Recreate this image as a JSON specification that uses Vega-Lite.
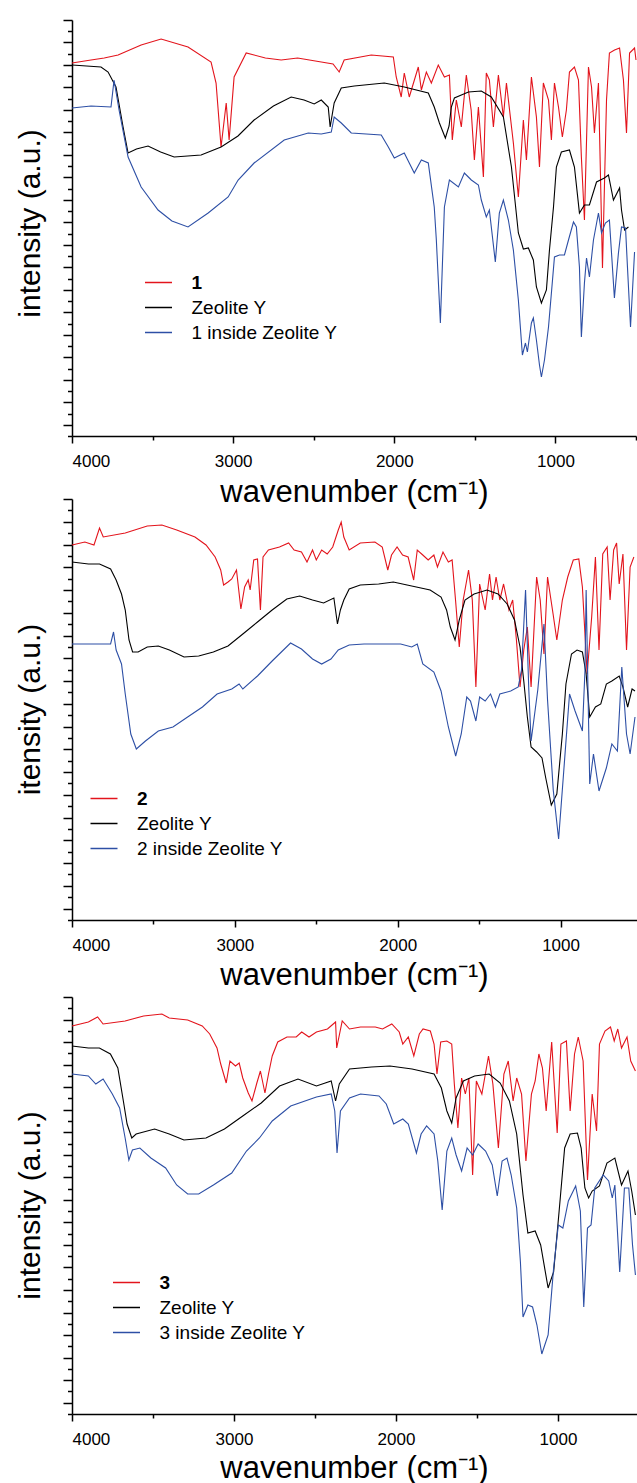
{
"$schema": "https://vega.github.io/schema/vega-lite/v6.json",
"background": "white",
"padding": {"left": 15, "top": 19, "right": 0, "bottom": 0},
"config": {
 "font": "Liberation Sans",
 "view": {"stroke": null},
 "axis": {"domainColor": "black", "domainWidth": 1.5, "tickColor": "black", "tickWidth": 1.5, "grid": false, "labelFont": "Liberation Sans", "labelFontSize": 17, "labelColor": "black", "titleFont": "Liberation Sans", "titleFontWeight": "normal", "titleColor": "black"},
 "legend": {"orient": "none", "symbolType": "M-1.5,0H1.5", "symbolSize": 324, "symbolStrokeWidth": 1.5, "labelFont": "Liberation Sans", "labelFontSize": 19, "labelColor": "black", "labelOffset": 23, "rowPadding": 5, "padding": 0, "symbolOffset": 0, "labelFontWeight": {"expr": "length(datum.label) == 1 ? 'bold' : 'normal'"}}
},
"datasets": {
 "p1": [
{"w":4000,"v":373,"s":"1"},{"w":3882,"v":376,"s":"1"},{"w":3800,"v":378,"s":"1"},{"w":3714,"v":381,"s":"1"},{"w":3571,"v":391,"s":"1"},{"w":3447,"v":397,"s":"1"},{"w":3280,"v":389,"s":"1"},{"w":3137,"v":374,"s":"1"},{"w":3106,"v":353,"s":"1"},{"w":3075,"v":289,"s":"1"},{"w":3043,"v":333,"s":"1"},{"w":3025,"v":296,"s":"1"},{"w":2994,"v":359,"s":"1"},{"w":2919,"v":383,"s":"1"},{"w":2800,"v":378,"s":"1"},{"w":2702,"v":376,"s":"1"},{"w":2600,"v":378,"s":"1"},{"w":2453,"v":374,"s":"1"},{"w":2380,"v":372,"s":"1"},{"w":2342,"v":364,"s":"1"},{"w":2311,"v":376,"s":"1"},{"w":2143,"v":381,"s":"1"},{"w":2006,"v":379,"s":"1"},{"w":1988,"v":359,"s":"1"},{"w":1957,"v":339,"s":"1"},{"w":1938,"v":363,"s":"1"},{"w":1907,"v":339,"s":"1"},{"w":1851,"v":369,"s":"1"},{"w":1832,"v":346,"s":"1"},{"w":1801,"v":364,"s":"1"},{"w":1770,"v":353,"s":"1"},{"w":1727,"v":371,"s":"1"},{"w":1689,"v":359,"s":"1"},{"w":1658,"v":361,"s":"1"},{"w":1640,"v":296,"s":"1"},{"w":1615,"v":336,"s":"1"},{"w":1584,"v":309,"s":"1"},{"w":1553,"v":361,"s":"1"},{"w":1523,"v":326,"s":"1"},{"w":1503,"v":276,"s":"1"},{"w":1478,"v":329,"s":"1"},{"w":1447,"v":259,"s":"1"},{"w":1429,"v":363,"s":"1"},{"w":1410,"v":356,"s":"1"},{"w":1385,"v":309,"s":"1"},{"w":1354,"v":361,"s":"1"},{"w":1323,"v":319,"s":"1"},{"w":1304,"v":353,"s":"1"},{"w":1261,"v":293,"s":"1"},{"w":1230,"v":239,"s":"1"},{"w":1199,"v":316,"s":"1"},{"w":1180,"v":276,"s":"1"},{"w":1149,"v":359,"s":"1"},{"w":1118,"v":319,"s":"1"},{"w":1099,"v":269,"s":"1"},{"w":1075,"v":353,"s":"1"},{"w":1043,"v":336,"s":"1"},{"w":1025,"v":296,"s":"1"},{"w":1006,"v":353,"s":"1"},{"w":981,"v":329,"s":"1"},{"w":957,"v":299,"s":"1"},{"w":932,"v":326,"s":"1"},{"w":913,"v":364,"s":"1"},{"w":882,"v":369,"s":"1"},{"w":857,"v":356,"s":"1"},{"w":839,"v":279,"s":"1"},{"w":820,"v":216,"s":"1"},{"w":795,"v":369,"s":"1"},{"w":776,"v":349,"s":"1"},{"w":758,"v":303,"s":"1"},{"w":733,"v":353,"s":"1"},{"w":708,"v":168,"s":"1"},{"w":683,"v":336,"s":"1"},{"w":665,"v":383,"s":"1"},{"w":633,"v":386,"s":"1"},{"w":602,"v":388,"s":"1"},{"w":578,"v":356,"s":"1"},{"w":559,"v":303,"s":"1"},{"w":540,"v":383,"s":"1"},{"w":509,"v":388,"s":"1"},{"w":500,"v":376,"s":"1"},
{"w":4000,"v":371,"s":"Zeolite Y"},{"w":3820,"v":369,"s":"Zeolite Y"},{"w":3776,"v":364,"s":"Zeolite Y"},{"w":3727,"v":349,"s":"Zeolite Y"},{"w":3683,"v":309,"s":"Zeolite Y"},{"w":3652,"v":283,"s":"Zeolite Y"},{"w":3600,"v":287,"s":"Zeolite Y"},{"w":3528,"v":290,"s":"Zeolite Y"},{"w":3450,"v":284,"s":"Zeolite Y"},{"w":3366,"v":279,"s":"Zeolite Y"},{"w":3199,"v":281,"s":"Zeolite Y"},{"w":3075,"v":289,"s":"Zeolite Y"},{"w":2970,"v":300,"s":"Zeolite Y"},{"w":2870,"v":316,"s":"Zeolite Y"},{"w":2750,"v":330,"s":"Zeolite Y"},{"w":2640,"v":339,"s":"Zeolite Y"},{"w":2560,"v":336,"s":"Zeolite Y"},{"w":2497,"v":332,"s":"Zeolite Y"},{"w":2453,"v":336,"s":"Zeolite Y"},{"w":2410,"v":329,"s":"Zeolite Y"},{"w":2398,"v":309,"s":"Zeolite Y"},{"w":2373,"v":333,"s":"Zeolite Y"},{"w":2329,"v":348,"s":"Zeolite Y"},{"w":2248,"v":350,"s":"Zeolite Y"},{"w":2062,"v":353,"s":"Zeolite Y"},{"w":1938,"v":349,"s":"Zeolite Y"},{"w":1789,"v":343,"s":"Zeolite Y"},{"w":1752,"v":329,"s":"Zeolite Y"},{"w":1720,"v":313,"s":"Zeolite Y"},{"w":1683,"v":298,"s":"Zeolite Y"},{"w":1660,"v":310,"s":"Zeolite Y"},{"w":1646,"v":329,"s":"Zeolite Y"},{"w":1627,"v":338,"s":"Zeolite Y"},{"w":1540,"v":344,"s":"Zeolite Y"},{"w":1460,"v":345,"s":"Zeolite Y"},{"w":1398,"v":339,"s":"Zeolite Y"},{"w":1323,"v":319,"s":"Zeolite Y"},{"w":1273,"v":269,"s":"Zeolite Y"},{"w":1230,"v":203,"s":"Zeolite Y"},{"w":1199,"v":187,"s":"Zeolite Y"},{"w":1168,"v":188,"s":"Zeolite Y"},{"w":1137,"v":176,"s":"Zeolite Y"},{"w":1118,"v":149,"s":"Zeolite Y"},{"w":1087,"v":133,"s":"Zeolite Y"},{"w":1056,"v":146,"s":"Zeolite Y"},{"w":1037,"v":186,"s":"Zeolite Y"},{"w":1012,"v":229,"s":"Zeolite Y"},{"w":994,"v":269,"s":"Zeolite Y"},{"w":963,"v":284,"s":"Zeolite Y"},{"w":913,"v":286,"s":"Zeolite Y"},{"w":882,"v":269,"s":"Zeolite Y"},{"w":851,"v":223,"s":"Zeolite Y"},{"w":820,"v":231,"s":"Zeolite Y"},{"w":789,"v":231,"s":"Zeolite Y"},{"w":745,"v":254,"s":"Zeolite Y"},{"w":696,"v":258,"s":"Zeolite Y"},{"w":671,"v":261,"s":"Zeolite Y"},{"w":640,"v":236,"s":"Zeolite Y"},{"w":602,"v":248,"s":"Zeolite Y"},{"w":590,"v":226,"s":"Zeolite Y"},{"w":571,"v":206,"s":"Zeolite Y"},{"w":547,"v":209,"s":"Zeolite Y"},
{"w":4000,"v":328,"s":"1 inside Zeolite Y"},{"w":3882,"v":330,"s":"1 inside Zeolite Y"},{"w":3758,"v":329,"s":"1 inside Zeolite Y"},{"w":3739,"v":356,"s":"1 inside Zeolite Y"},{"w":3708,"v":326,"s":"1 inside Zeolite Y"},{"w":3652,"v":279,"s":"1 inside Zeolite Y"},{"w":3571,"v":249,"s":"1 inside Zeolite Y"},{"w":3466,"v":226,"s":"1 inside Zeolite Y"},{"w":3380,"v":215,"s":"1 inside Zeolite Y"},{"w":3280,"v":209,"s":"1 inside Zeolite Y"},{"w":3155,"v":223,"s":"1 inside Zeolite Y"},{"w":3031,"v":239,"s":"1 inside Zeolite Y"},{"w":2969,"v":256,"s":"1 inside Zeolite Y"},{"w":2870,"v":273,"s":"1 inside Zeolite Y"},{"w":2683,"v":296,"s":"1 inside Zeolite Y"},{"w":2534,"v":303,"s":"1 inside Zeolite Y"},{"w":2453,"v":302,"s":"1 inside Zeolite Y"},{"w":2391,"v":304,"s":"1 inside Zeolite Y"},{"w":2373,"v":319,"s":"1 inside Zeolite Y"},{"w":2329,"v":313,"s":"1 inside Zeolite Y"},{"w":2267,"v":303,"s":"1 inside Zeolite Y"},{"w":2081,"v":301,"s":"1 inside Zeolite Y"},{"w":2037,"v":289,"s":"1 inside Zeolite Y"},{"w":2000,"v":278,"s":"1 inside Zeolite Y"},{"w":1938,"v":283,"s":"1 inside Zeolite Y"},{"w":1876,"v":263,"s":"1 inside Zeolite Y"},{"w":1832,"v":276,"s":"1 inside Zeolite Y"},{"w":1789,"v":273,"s":"1 inside Zeolite Y"},{"w":1752,"v":229,"s":"1 inside Zeolite Y"},{"w":1739,"v":196,"s":"1 inside Zeolite Y"},{"w":1714,"v":113,"s":"1 inside Zeolite Y"},{"w":1689,"v":229,"s":"1 inside Zeolite Y"},{"w":1658,"v":256,"s":"1 inside Zeolite Y"},{"w":1602,"v":249,"s":"1 inside Zeolite Y"},{"w":1565,"v":263,"s":"1 inside Zeolite Y"},{"w":1522,"v":256,"s":"1 inside Zeolite Y"},{"w":1478,"v":251,"s":"1 inside Zeolite Y"},{"w":1460,"v":236,"s":"1 inside Zeolite Y"},{"w":1429,"v":219,"s":"1 inside Zeolite Y"},{"w":1410,"v":226,"s":"1 inside Zeolite Y"},{"w":1373,"v":174,"s":"1 inside Zeolite Y"},{"w":1348,"v":223,"s":"1 inside Zeolite Y"},{"w":1323,"v":236,"s":"1 inside Zeolite Y"},{"w":1292,"v":216,"s":"1 inside Zeolite Y"},{"w":1261,"v":186,"s":"1 inside Zeolite Y"},{"w":1230,"v":136,"s":"1 inside Zeolite Y"},{"w":1205,"v":81,"s":"1 inside Zeolite Y"},{"w":1186,"v":93,"s":"1 inside Zeolite Y"},{"w":1174,"v":84,"s":"1 inside Zeolite Y"},{"w":1149,"v":113,"s":"1 inside Zeolite Y"},{"w":1137,"v":118,"s":"1 inside Zeolite Y"},{"w":1118,"v":96,"s":"1 inside Zeolite Y"},{"w":1099,"v":71,"s":"1 inside Zeolite Y"},{"w":1087,"v":59,"s":"1 inside Zeolite Y"},{"w":1068,"v":76,"s":"1 inside Zeolite Y"},{"w":1043,"v":109,"s":"1 inside Zeolite Y"},{"w":1025,"v":143,"s":"1 inside Zeolite Y"},{"w":1006,"v":179,"s":"1 inside Zeolite Y"},{"w":975,"v":181,"s":"1 inside Zeolite Y"},{"w":944,"v":181,"s":"1 inside Zeolite Y"},{"w":919,"v":196,"s":"1 inside Zeolite Y"},{"w":888,"v":214,"s":"1 inside Zeolite Y"},{"w":870,"v":209,"s":"1 inside Zeolite Y"},{"w":851,"v":169,"s":"1 inside Zeolite Y"},{"w":839,"v":99,"s":"1 inside Zeolite Y"},{"w":820,"v":153,"s":"1 inside Zeolite Y"},{"w":807,"v":178,"s":"1 inside Zeolite Y"},{"w":789,"v":159,"s":"1 inside Zeolite Y"},{"w":764,"v":196,"s":"1 inside Zeolite Y"},{"w":733,"v":223,"s":"1 inside Zeolite Y"},{"w":714,"v":203,"s":"1 inside Zeolite Y"},{"w":690,"v":213,"s":"1 inside Zeolite Y"},{"w":665,"v":216,"s":"1 inside Zeolite Y"},{"w":634,"v":138,"s":"1 inside Zeolite Y"},{"w":609,"v":183,"s":"1 inside Zeolite Y"},{"w":590,"v":209,"s":"1 inside Zeolite Y"},{"w":565,"v":208,"s":"1 inside Zeolite Y"},{"w":553,"v":169,"s":"1 inside Zeolite Y"},{"w":534,"v":109,"s":"1 inside Zeolite Y"},{"w":509,"v":184,"s":"1 inside Zeolite Y"}
 ],
 "p2": [
{"w":4000,"v":375,"s":"2"},{"w":3921,"v":378,"s":"2"},{"w":3865,"v":375,"s":"2"},{"w":3831,"v":392,"s":"2"},{"w":3808,"v":383,"s":"2"},{"w":3673,"v":387,"s":"2"},{"w":3538,"v":394,"s":"2"},{"w":3448,"v":395,"s":"2"},{"w":3357,"v":390,"s":"2"},{"w":3245,"v":383,"s":"2"},{"w":3177,"v":375,"s":"2"},{"w":3121,"v":363,"s":"2"},{"w":3087,"v":350,"s":"2"},{"w":3069,"v":335,"s":"2"},{"w":3042,"v":338,"s":"2"},{"w":3019,"v":341,"s":"2"},{"w":2990,"v":350,"s":"2"},{"w":2963,"v":311,"s":"2"},{"w":2940,"v":333,"s":"2"},{"w":2918,"v":340,"s":"2"},{"w":2906,"v":330,"s":"2"},{"w":2884,"v":360,"s":"2"},{"w":2861,"v":361,"s":"2"},{"w":2843,"v":310,"s":"2"},{"w":2827,"v":363,"s":"2"},{"w":2794,"v":370,"s":"2"},{"w":2726,"v":373,"s":"2"},{"w":2670,"v":377,"s":"2"},{"w":2636,"v":370,"s":"2"},{"w":2591,"v":368,"s":"2"},{"w":2557,"v":358,"s":"2"},{"w":2523,"v":370,"s":"2"},{"w":2500,"v":360,"s":"2"},{"w":2467,"v":370,"s":"2"},{"w":2433,"v":366,"s":"2"},{"w":2399,"v":373,"s":"2"},{"w":2365,"v":390,"s":"2"},{"w":2347,"v":398,"s":"2"},{"w":2331,"v":383,"s":"2"},{"w":2298,"v":370,"s":"2"},{"w":2230,"v":377,"s":"2"},{"w":2140,"v":378,"s":"2"},{"w":2095,"v":373,"s":"2"},{"w":2061,"v":350,"s":"2"},{"w":2038,"v":365,"s":"2"},{"w":2004,"v":373,"s":"2"},{"w":1970,"v":365,"s":"2"},{"w":1936,"v":363,"s":"2"},{"w":1902,"v":340,"s":"2"},{"w":1880,"v":370,"s":"2"},{"w":1846,"v":365,"s":"2"},{"w":1813,"v":360,"s":"2"},{"w":1778,"v":365,"s":"2"},{"w":1756,"v":353,"s":"2"},{"w":1722,"v":368,"s":"2"},{"w":1689,"v":358,"s":"2"},{"w":1666,"v":360,"s":"2"},{"w":1645,"v":320,"s":"2"},{"w":1622,"v":273,"s":"2"},{"w":1598,"v":320,"s":"2"},{"w":1565,"v":350,"s":"2"},{"w":1542,"v":320,"s":"2"},{"w":1520,"v":233,"s":"2"},{"w":1497,"v":336,"s":"2"},{"w":1463,"v":310,"s":"2"},{"w":1436,"v":346,"s":"2"},{"w":1418,"v":320,"s":"2"},{"w":1396,"v":343,"s":"2"},{"w":1373,"v":320,"s":"2"},{"w":1350,"v":336,"s":"2"},{"w":1317,"v":310,"s":"2"},{"w":1294,"v":320,"s":"2"},{"w":1271,"v":280,"s":"2"},{"w":1249,"v":233,"s":"2"},{"w":1226,"v":270,"s":"2"},{"w":1204,"v":293,"s":"2"},{"w":1181,"v":233,"s":"2"},{"w":1147,"v":343,"s":"2"},{"w":1125,"v":320,"s":"2"},{"w":1102,"v":266,"s":"2"},{"w":1080,"v":343,"s":"2"},{"w":1046,"v":306,"s":"2"},{"w":1023,"v":280,"s":"2"},{"w":989,"v":320,"s":"2"},{"w":956,"v":343,"s":"2"},{"w":922,"v":360,"s":"2"},{"w":888,"v":361,"s":"2"},{"w":866,"v":333,"s":"2"},{"w":837,"v":246,"s":"2"},{"w":809,"v":303,"s":"2"},{"w":786,"v":363,"s":"2"},{"w":764,"v":270,"s":"2"},{"w":741,"v":366,"s":"2"},{"w":714,"v":373,"s":"2"},{"w":696,"v":320,"s":"2"},{"w":674,"v":370,"s":"2"},{"w":656,"v":377,"s":"2"},{"w":640,"v":336,"s":"2"},{"w":617,"v":366,"s":"2"},{"w":595,"v":270,"s":"2"},{"w":573,"v":353,"s":"2"},{"w":550,"v":363,"s":"2"},
{"w":4000,"v":358,"s":"Zeolite Y"},{"w":3899,"v":356,"s":"Zeolite Y"},{"w":3831,"v":356,"s":"Zeolite Y"},{"w":3763,"v":351,"s":"Zeolite Y"},{"w":3729,"v":340,"s":"Zeolite Y"},{"w":3696,"v":326,"s":"Zeolite Y"},{"w":3673,"v":310,"s":"Zeolite Y"},{"w":3650,"v":280,"s":"Zeolite Y"},{"w":3628,"v":268,"s":"Zeolite Y"},{"w":3594,"v":268,"s":"Zeolite Y"},{"w":3538,"v":273,"s":"Zeolite Y"},{"w":3470,"v":274,"s":"Zeolite Y"},{"w":3402,"v":270,"s":"Zeolite Y"},{"w":3312,"v":263,"s":"Zeolite Y"},{"w":3222,"v":264,"s":"Zeolite Y"},{"w":3132,"v":268,"s":"Zeolite Y"},{"w":3042,"v":274,"s":"Zeolite Y"},{"w":2951,"v":286,"s":"Zeolite Y"},{"w":2861,"v":298,"s":"Zeolite Y"},{"w":2771,"v":310,"s":"Zeolite Y"},{"w":2681,"v":321,"s":"Zeolite Y"},{"w":2602,"v":324,"s":"Zeolite Y"},{"w":2523,"v":320,"s":"Zeolite Y"},{"w":2455,"v":317,"s":"Zeolite Y"},{"w":2392,"v":322,"s":"Zeolite Y"},{"w":2370,"v":296,"s":"Zeolite Y"},{"w":2352,"v":310,"s":"Zeolite Y"},{"w":2331,"v":320,"s":"Zeolite Y"},{"w":2298,"v":331,"s":"Zeolite Y"},{"w":2230,"v":335,"s":"Zeolite Y"},{"w":2117,"v":336,"s":"Zeolite Y"},{"w":2027,"v":338,"s":"Zeolite Y"},{"w":1914,"v":334,"s":"Zeolite Y"},{"w":1801,"v":330,"s":"Zeolite Y"},{"w":1734,"v":323,"s":"Zeolite Y"},{"w":1700,"v":310,"s":"Zeolite Y"},{"w":1677,"v":293,"s":"Zeolite Y"},{"w":1648,"v":280,"s":"Zeolite Y"},{"w":1622,"v":300,"s":"Zeolite Y"},{"w":1587,"v":320,"s":"Zeolite Y"},{"w":1531,"v":326,"s":"Zeolite Y"},{"w":1452,"v":330,"s":"Zeolite Y"},{"w":1384,"v":326,"s":"Zeolite Y"},{"w":1328,"v":316,"s":"Zeolite Y"},{"w":1283,"v":300,"s":"Zeolite Y"},{"w":1249,"v":273,"s":"Zeolite Y"},{"w":1226,"v":239,"s":"Zeolite Y"},{"w":1204,"v":203,"s":"Zeolite Y"},{"w":1181,"v":173,"s":"Zeolite Y"},{"w":1147,"v":168,"s":"Zeolite Y"},{"w":1114,"v":162,"s":"Zeolite Y"},{"w":1091,"v":142,"s":"Zeolite Y"},{"w":1057,"v":115,"s":"Zeolite Y"},{"w":1023,"v":126,"s":"Zeolite Y"},{"w":989,"v":186,"s":"Zeolite Y"},{"w":967,"v":236,"s":"Zeolite Y"},{"w":933,"v":266,"s":"Zeolite Y"},{"w":899,"v":270,"s":"Zeolite Y"},{"w":866,"v":268,"s":"Zeolite Y"},{"w":843,"v":246,"s":"Zeolite Y"},{"w":821,"v":203,"s":"Zeolite Y"},{"w":786,"v":213,"s":"Zeolite Y"},{"w":753,"v":216,"s":"Zeolite Y"},{"w":719,"v":236,"s":"Zeolite Y"},{"w":685,"v":239,"s":"Zeolite Y"},{"w":640,"v":244,"s":"Zeolite Y"},{"w":617,"v":233,"s":"Zeolite Y"},{"w":588,"v":213,"s":"Zeolite Y"},{"w":561,"v":231,"s":"Zeolite Y"},{"w":543,"v":229,"s":"Zeolite Y"},
{"w":4000,"v":276,"s":"2 inside Zeolite Y"},{"w":3853,"v":276,"s":"2 inside Zeolite Y"},{"w":3763,"v":276,"s":"2 inside Zeolite Y"},{"w":3745,"v":288,"s":"2 inside Zeolite Y"},{"w":3729,"v":270,"s":"2 inside Zeolite Y"},{"w":3696,"v":256,"s":"2 inside Zeolite Y"},{"w":3673,"v":226,"s":"2 inside Zeolite Y"},{"w":3639,"v":186,"s":"2 inside Zeolite Y"},{"w":3605,"v":171,"s":"2 inside Zeolite Y"},{"w":3549,"v":179,"s":"2 inside Zeolite Y"},{"w":3470,"v":189,"s":"2 inside Zeolite Y"},{"w":3380,"v":193,"s":"2 inside Zeolite Y"},{"w":3290,"v":203,"s":"2 inside Zeolite Y"},{"w":3199,"v":213,"s":"2 inside Zeolite Y"},{"w":3109,"v":226,"s":"2 inside Zeolite Y"},{"w":3019,"v":231,"s":"2 inside Zeolite Y"},{"w":2974,"v":236,"s":"2 inside Zeolite Y"},{"w":2951,"v":231,"s":"2 inside Zeolite Y"},{"w":2861,"v":244,"s":"2 inside Zeolite Y"},{"w":2771,"v":259,"s":"2 inside Zeolite Y"},{"w":2658,"v":277,"s":"2 inside Zeolite Y"},{"w":2591,"v":271,"s":"2 inside Zeolite Y"},{"w":2523,"v":261,"s":"2 inside Zeolite Y"},{"w":2467,"v":256,"s":"2 inside Zeolite Y"},{"w":2410,"v":261,"s":"2 inside Zeolite Y"},{"w":2365,"v":270,"s":"2 inside Zeolite Y"},{"w":2298,"v":275,"s":"2 inside Zeolite Y"},{"w":2207,"v":276,"s":"2 inside Zeolite Y"},{"w":2095,"v":276,"s":"2 inside Zeolite Y"},{"w":1982,"v":276,"s":"2 inside Zeolite Y"},{"w":1914,"v":273,"s":"2 inside Zeolite Y"},{"w":1880,"v":276,"s":"2 inside Zeolite Y"},{"w":1846,"v":256,"s":"2 inside Zeolite Y"},{"w":1778,"v":248,"s":"2 inside Zeolite Y"},{"w":1734,"v":229,"s":"2 inside Zeolite Y"},{"w":1689,"v":193,"s":"2 inside Zeolite Y"},{"w":1644,"v":164,"s":"2 inside Zeolite Y"},{"w":1610,"v":186,"s":"2 inside Zeolite Y"},{"w":1576,"v":223,"s":"2 inside Zeolite Y"},{"w":1553,"v":219,"s":"2 inside Zeolite Y"},{"w":1520,"v":199,"s":"2 inside Zeolite Y"},{"w":1497,"v":223,"s":"2 inside Zeolite Y"},{"w":1463,"v":219,"s":"2 inside Zeolite Y"},{"w":1430,"v":226,"s":"2 inside Zeolite Y"},{"w":1400,"v":213,"s":"2 inside Zeolite Y"},{"w":1373,"v":226,"s":"2 inside Zeolite Y"},{"w":1306,"v":229,"s":"2 inside Zeolite Y"},{"w":1260,"v":233,"s":"2 inside Zeolite Y"},{"w":1240,"v":250,"s":"2 inside Zeolite Y"},{"w":1215,"v":330,"s":"2 inside Zeolite Y"},{"w":1195,"v":230,"s":"2 inside Zeolite Y"},{"w":1181,"v":179,"s":"2 inside Zeolite Y"},{"w":1140,"v":230,"s":"2 inside Zeolite Y"},{"w":1102,"v":296,"s":"2 inside Zeolite Y"},{"w":1080,"v":220,"s":"2 inside Zeolite Y"},{"w":1045,"v":130,"s":"2 inside Zeolite Y"},{"w":1012,"v":81,"s":"2 inside Zeolite Y"},{"w":980,"v":150,"s":"2 inside Zeolite Y"},{"w":945,"v":226,"s":"2 inside Zeolite Y"},{"w":911,"v":209,"s":"2 inside Zeolite Y"},{"w":866,"v":189,"s":"2 inside Zeolite Y"},{"w":850,"v":250,"s":"2 inside Zeolite Y"},{"w":843,"v":330,"s":"2 inside Zeolite Y"},{"w":821,"v":136,"s":"2 inside Zeolite Y"},{"w":798,"v":166,"s":"2 inside Zeolite Y"},{"w":764,"v":129,"s":"2 inside Zeolite Y"},{"w":719,"v":152,"s":"2 inside Zeolite Y"},{"w":685,"v":176,"s":"2 inside Zeolite Y"},{"w":651,"v":169,"s":"2 inside Zeolite Y"},{"w":624,"v":253,"s":"2 inside Zeolite Y"},{"w":595,"v":186,"s":"2 inside Zeolite Y"},{"w":573,"v":166,"s":"2 inside Zeolite Y"},{"w":543,"v":203,"s":"2 inside Zeolite Y"}
 ],
 "p3": [
{"w":4000,"v":388,"s":"3"},{"w":3899,"v":392,"s":"3"},{"w":3842,"v":397,"s":"3"},{"w":3808,"v":390,"s":"3"},{"w":3672,"v":393,"s":"3"},{"w":3558,"v":398,"s":"3"},{"w":3445,"v":400,"s":"3"},{"w":3400,"v":396,"s":"3"},{"w":3286,"v":394,"s":"3"},{"w":3196,"v":388,"s":"3"},{"w":3150,"v":380,"s":"3"},{"w":3105,"v":366,"s":"3"},{"w":3082,"v":350,"s":"3"},{"w":3048,"v":331,"s":"3"},{"w":3025,"v":353,"s":"3"},{"w":2991,"v":348,"s":"3"},{"w":2968,"v":351,"s":"3"},{"w":2946,"v":336,"s":"3"},{"w":2912,"v":321,"s":"3"},{"w":2889,"v":313,"s":"3"},{"w":2859,"v":331,"s":"3"},{"w":2837,"v":343,"s":"3"},{"w":2809,"v":321,"s":"3"},{"w":2787,"v":340,"s":"3"},{"w":2764,"v":358,"s":"3"},{"w":2730,"v":372,"s":"3"},{"w":2673,"v":377,"s":"3"},{"w":2616,"v":377,"s":"3"},{"w":2582,"v":382,"s":"3"},{"w":2537,"v":377,"s":"3"},{"w":2491,"v":382,"s":"3"},{"w":2423,"v":385,"s":"3"},{"w":2373,"v":392,"s":"3"},{"w":2366,"v":366,"s":"3"},{"w":2332,"v":393,"s":"3"},{"w":2287,"v":385,"s":"3"},{"w":2219,"v":387,"s":"3"},{"w":2128,"v":387,"s":"3"},{"w":2083,"v":385,"s":"3"},{"w":2026,"v":390,"s":"3"},{"w":1980,"v":382,"s":"3"},{"w":1958,"v":370,"s":"3"},{"w":1924,"v":377,"s":"3"},{"w":1890,"v":358,"s":"3"},{"w":1856,"v":380,"s":"3"},{"w":1833,"v":385,"s":"3"},{"w":1788,"v":383,"s":"3"},{"w":1765,"v":370,"s":"3"},{"w":1747,"v":340,"s":"3"},{"w":1724,"v":372,"s":"3"},{"w":1686,"v":373,"s":"3"},{"w":1656,"v":370,"s":"3"},{"w":1640,"v":330,"s":"3"},{"w":1618,"v":286,"s":"3"},{"w":1595,"v":336,"s":"3"},{"w":1572,"v":320,"s":"3"},{"w":1550,"v":336,"s":"3"},{"w":1527,"v":239,"s":"3"},{"w":1504,"v":333,"s":"3"},{"w":1470,"v":320,"s":"3"},{"w":1429,"v":358,"s":"3"},{"w":1402,"v":330,"s":"3"},{"w":1368,"v":266,"s":"3"},{"w":1334,"v":340,"s":"3"},{"w":1307,"v":353,"s":"3"},{"w":1277,"v":313,"s":"3"},{"w":1255,"v":336,"s":"3"},{"w":1225,"v":320,"s":"3"},{"w":1198,"v":253,"s":"3"},{"w":1164,"v":320,"s":"3"},{"w":1141,"v":333,"s":"3"},{"w":1118,"v":360,"s":"3"},{"w":1096,"v":346,"s":"3"},{"w":1073,"v":303,"s":"3"},{"w":1039,"v":372,"s":"3"},{"w":1005,"v":281,"s":"3"},{"w":982,"v":370,"s":"3"},{"w":948,"v":373,"s":"3"},{"w":925,"v":303,"s":"3"},{"w":898,"v":360,"s":"3"},{"w":875,"v":377,"s":"3"},{"w":845,"v":353,"s":"3"},{"w":818,"v":234,"s":"3"},{"w":789,"v":320,"s":"3"},{"w":762,"v":283,"s":"3"},{"w":744,"v":370,"s":"3"},{"w":710,"v":383,"s":"3"},{"w":676,"v":387,"s":"3"},{"w":653,"v":373,"s":"3"},{"w":631,"v":385,"s":"3"},{"w":608,"v":366,"s":"3"},{"w":574,"v":377,"s":"3"},{"w":551,"v":353,"s":"3"},{"w":522,"v":343,"s":"3"},
{"w":4000,"v":368,"s":"Zeolite Y"},{"w":3899,"v":366,"s":"Zeolite Y"},{"w":3831,"v":366,"s":"Zeolite Y"},{"w":3763,"v":360,"s":"Zeolite Y"},{"w":3717,"v":346,"s":"Zeolite Y"},{"w":3683,"v":313,"s":"Zeolite Y"},{"w":3660,"v":290,"s":"Zeolite Y"},{"w":3631,"v":276,"s":"Zeolite Y"},{"w":3604,"v":280,"s":"Zeolite Y"},{"w":3490,"v":285,"s":"Zeolite Y"},{"w":3400,"v":280,"s":"Zeolite Y"},{"w":3309,"v":274,"s":"Zeolite Y"},{"w":3173,"v":276,"s":"Zeolite Y"},{"w":3059,"v":285,"s":"Zeolite Y"},{"w":2946,"v":298,"s":"Zeolite Y"},{"w":2832,"v":311,"s":"Zeolite Y"},{"w":2719,"v":328,"s":"Zeolite Y"},{"w":2605,"v":335,"s":"Zeolite Y"},{"w":2491,"v":328,"s":"Zeolite Y"},{"w":2400,"v":333,"s":"Zeolite Y"},{"w":2373,"v":313,"s":"Zeolite Y"},{"w":2350,"v":330,"s":"Zeolite Y"},{"w":2287,"v":345,"s":"Zeolite Y"},{"w":2151,"v":347,"s":"Zeolite Y"},{"w":2037,"v":348,"s":"Zeolite Y"},{"w":1901,"v":345,"s":"Zeolite Y"},{"w":1765,"v":340,"s":"Zeolite Y"},{"w":1720,"v":326,"s":"Zeolite Y"},{"w":1686,"v":303,"s":"Zeolite Y"},{"w":1656,"v":291,"s":"Zeolite Y"},{"w":1629,"v":316,"s":"Zeolite Y"},{"w":1584,"v":333,"s":"Zeolite Y"},{"w":1515,"v":338,"s":"Zeolite Y"},{"w":1425,"v":340,"s":"Zeolite Y"},{"w":1357,"v":331,"s":"Zeolite Y"},{"w":1300,"v":313,"s":"Zeolite Y"},{"w":1255,"v":280,"s":"Zeolite Y"},{"w":1216,"v":219,"s":"Zeolite Y"},{"w":1186,"v":181,"s":"Zeolite Y"},{"w":1141,"v":183,"s":"Zeolite Y"},{"w":1107,"v":169,"s":"Zeolite Y"},{"w":1061,"v":126,"s":"Zeolite Y"},{"w":1027,"v":142,"s":"Zeolite Y"},{"w":993,"v":203,"s":"Zeolite Y"},{"w":959,"v":266,"s":"Zeolite Y"},{"w":925,"v":280,"s":"Zeolite Y"},{"w":880,"v":281,"s":"Zeolite Y"},{"w":857,"v":266,"s":"Zeolite Y"},{"w":834,"v":226,"s":"Zeolite Y"},{"w":811,"v":216,"s":"Zeolite Y"},{"w":789,"v":223,"s":"Zeolite Y"},{"w":744,"v":228,"s":"Zeolite Y"},{"w":698,"v":251,"s":"Zeolite Y"},{"w":649,"v":256,"s":"Zeolite Y"},{"w":608,"v":229,"s":"Zeolite Y"},{"w":568,"v":243,"s":"Zeolite Y"},{"w":545,"v":223,"s":"Zeolite Y"},{"w":522,"v":199,"s":"Zeolite Y"},
{"w":4000,"v":340,"s":"3 inside Zeolite Y"},{"w":3899,"v":338,"s":"3 inside Zeolite Y"},{"w":3853,"v":330,"s":"3 inside Zeolite Y"},{"w":3808,"v":335,"s":"3 inside Zeolite Y"},{"w":3751,"v":320,"s":"3 inside Zeolite Y"},{"w":3706,"v":306,"s":"3 inside Zeolite Y"},{"w":3672,"v":276,"s":"3 inside Zeolite Y"},{"w":3649,"v":254,"s":"3 inside Zeolite Y"},{"w":3627,"v":264,"s":"3 inside Zeolite Y"},{"w":3581,"v":266,"s":"3 inside Zeolite Y"},{"w":3513,"v":256,"s":"3 inside Zeolite Y"},{"w":3422,"v":246,"s":"3 inside Zeolite Y"},{"w":3354,"v":229,"s":"3 inside Zeolite Y"},{"w":3286,"v":220,"s":"3 inside Zeolite Y"},{"w":3218,"v":220,"s":"3 inside Zeolite Y"},{"w":3127,"v":229,"s":"3 inside Zeolite Y"},{"w":3014,"v":241,"s":"3 inside Zeolite Y"},{"w":2923,"v":263,"s":"3 inside Zeolite Y"},{"w":2843,"v":276,"s":"3 inside Zeolite Y"},{"w":2764,"v":293,"s":"3 inside Zeolite Y"},{"w":2650,"v":308,"s":"3 inside Zeolite Y"},{"w":2491,"v":317,"s":"3 inside Zeolite Y"},{"w":2400,"v":320,"s":"3 inside Zeolite Y"},{"w":2378,"v":303,"s":"3 inside Zeolite Y"},{"w":2364,"v":261,"s":"3 inside Zeolite Y"},{"w":2343,"v":303,"s":"3 inside Zeolite Y"},{"w":2287,"v":316,"s":"3 inside Zeolite Y"},{"w":2219,"v":320,"s":"3 inside Zeolite Y"},{"w":2105,"v":318,"s":"3 inside Zeolite Y"},{"w":2060,"v":310,"s":"3 inside Zeolite Y"},{"w":2014,"v":290,"s":"3 inside Zeolite Y"},{"w":1958,"v":295,"s":"3 inside Zeolite Y"},{"w":1924,"v":290,"s":"3 inside Zeolite Y"},{"w":1874,"v":261,"s":"3 inside Zeolite Y"},{"w":1845,"v":280,"s":"3 inside Zeolite Y"},{"w":1811,"v":288,"s":"3 inside Zeolite Y"},{"w":1765,"v":280,"s":"3 inside Zeolite Y"},{"w":1742,"v":253,"s":"3 inside Zeolite Y"},{"w":1715,"v":204,"s":"3 inside Zeolite Y"},{"w":1686,"v":263,"s":"3 inside Zeolite Y"},{"w":1656,"v":276,"s":"3 inside Zeolite Y"},{"w":1629,"v":259,"s":"3 inside Zeolite Y"},{"w":1595,"v":243,"s":"3 inside Zeolite Y"},{"w":1561,"v":266,"s":"3 inside Zeolite Y"},{"w":1527,"v":259,"s":"3 inside Zeolite Y"},{"w":1493,"v":270,"s":"3 inside Zeolite Y"},{"w":1447,"v":263,"s":"3 inside Zeolite Y"},{"w":1406,"v":249,"s":"3 inside Zeolite Y"},{"w":1375,"v":218,"s":"3 inside Zeolite Y"},{"w":1345,"v":253,"s":"3 inside Zeolite Y"},{"w":1315,"v":256,"s":"3 inside Zeolite Y"},{"w":1289,"v":239,"s":"3 inside Zeolite Y"},{"w":1255,"v":206,"s":"3 inside Zeolite Y"},{"w":1232,"v":152,"s":"3 inside Zeolite Y"},{"w":1216,"v":97,"s":"3 inside Zeolite Y"},{"w":1186,"v":109,"s":"3 inside Zeolite Y"},{"w":1157,"v":107,"s":"3 inside Zeolite Y"},{"w":1130,"v":89,"s":"3 inside Zeolite Y"},{"w":1100,"v":60,"s":"3 inside Zeolite Y"},{"w":1061,"v":79,"s":"3 inside Zeolite Y"},{"w":1027,"v":146,"s":"3 inside Zeolite Y"},{"w":998,"v":189,"s":"3 inside Zeolite Y"},{"w":970,"v":186,"s":"3 inside Zeolite Y"},{"w":936,"v":213,"s":"3 inside Zeolite Y"},{"w":891,"v":228,"s":"3 inside Zeolite Y"},{"w":862,"v":203,"s":"3 inside Zeolite Y"},{"w":841,"v":107,"s":"3 inside Zeolite Y"},{"w":818,"v":186,"s":"3 inside Zeolite Y"},{"w":796,"v":189,"s":"3 inside Zeolite Y"},{"w":773,"v":226,"s":"3 inside Zeolite Y"},{"w":721,"v":239,"s":"3 inside Zeolite Y"},{"w":687,"v":233,"s":"3 inside Zeolite Y"},{"w":665,"v":216,"s":"3 inside Zeolite Y"},{"w":649,"v":229,"s":"3 inside Zeolite Y"},{"w":619,"v":142,"s":"3 inside Zeolite Y"},{"w":590,"v":226,"s":"3 inside Zeolite Y"},{"w":563,"v":226,"s":"3 inside Zeolite Y"},{"w":540,"v":169,"s":"3 inside Zeolite Y"},{"w":522,"v":139,"s":"3 inside Zeolite Y"}
 ]
},
"resolve": {"scale": {"color": "independent"}},
"bounds": "flush",
"spacing": 63,
"vconcat": [
 {
  "width": 564, "height": 416,
  "data": {"name": "p1"},
  "mark": {"type": "line", "strokeWidth": 1.1},
  "encoding": {
   "x": {"field": "w", "type": "quantitative", "scale": {"domain": [4000, 500], "nice": false, "zero": false},
    "axis": {"values": [4000,3500,3000,2500,2000,1500,1000,500], "format": "d", "labelExpr": "datum.value % 1000 == 0 ? datum.label : ''", "tickSize": {"condition": {"test": "datum.value % 1000 == 0", "value": 7}, "value": 4}, "labelPadding": 10, "title": "wavenumber (cm⁻¹)", "titleFontSize": 31, "titleBaseline": "alphabetic", "titleX": 282, "titleY": 65}},
   "y": {"field": "v", "type": "quantitative", "scale": {"domain": [0, 416], "nice": false, "zero": false},
    "axis": {"labels": false, "values": [0,11.24,22.49,33.73,44.97,56.22,67.46,78.70,89.95,101.19,112.43,123.68,134.92,146.16,157.41,168.65,179.89,191.14,202.38,213.62,224.86,236.11,247.35,258.59,269.84,281.08,292.32,303.57,314.81,326.05,337.30,348.54,359.78,371.03,382.27,393.51,404.76,416], "tickSize": {"condition": {"test": "round(datum.value/11.2432) % 2 == 1", "value": 9}, "value": 4.5}, "title": "intensity (a.u.)", "titleFontSize": 30, "titleAngle": -90, "titleBaseline": "alphabetic", "titleAlign": "center", "titleX": -33, "titleY": 203}},
   "color": {"field": "s", "type": "nominal", "scale": {"domain": ["1", "Zeolite Y", "1 inside Zeolite Y"], "range": ["#e3141c", "#000000", "#2d4fa5"]},
    "legend": {"title": null, "legendX": 76.5, "legendY": 252.5}}
  }
 },
 {
  "resolve": {"scale": {"color": "independent"}},
  "bounds": "flush",
  "spacing": 77,
  "vconcat": [
   {
    "width": 570, "height": 421,
    "data": {"name": "p2"},
    "mark": {"type": "line", "strokeWidth": 1.1},
    "encoding": {
     "x": {"field": "w", "type": "quantitative", "scale": {"domain": [4000, 500], "nice": false, "zero": false},
      "axis": {"values": [4000,3500,3000,2500,2000,1500,1000,500], "format": "d", "labelExpr": "datum.value % 1000 == 0 ? datum.label : ''", "tickSize": {"condition": {"test": "datum.value % 1000 == 0", "value": 7}, "value": 4}, "labelPadding": 10, "title": "wavenumber (cm⁻¹)", "titleFontSize": 31, "titleBaseline": "alphabetic", "titleX": 282, "titleY": 64}},
     "y": {"field": "v", "type": "quantitative", "scale": {"domain": [0, 421], "nice": false, "zero": false},
      "axis": {"labels": false, "values": [0,11.38,22.76,34.14,45.51,56.89,68.27,79.65,91.03,102.41,113.78,125.16,136.54,147.92,159.30,170.68,182.05,193.43,204.81,216.19,227.57,238.95,250.32,261.70,273.08,284.46,295.84,307.22,318.59,329.97,341.35,352.73,364.11,375.49,386.86,398.24,409.62,421], "tickSize": {"condition": {"test": "round(datum.value/11.3784) % 2 == 1", "value": 9}, "value": 4.5}, "title": "itensity (a.u.)", "titleFontSize": 30, "titleAngle": -90, "titleBaseline": "alphabetic", "titleAlign": "center", "titleX": -33, "titleY": 210}},
     "color": {"field": "s", "type": "nominal", "scale": {"domain": ["2", "Zeolite Y", "2 inside Zeolite Y"], "range": ["#e3141c", "#000000", "#2d4fa5"]},
      "legend": {"title": null, "legendX": 22, "legendY": 289.5}}
    }
   },
   {
    "width": 567, "height": 417,
    "data": {"name": "p3"},
    "mark": {"type": "line", "strokeWidth": 1.1},
    "encoding": {
     "x": {"field": "w", "type": "quantitative", "scale": {"domain": [4000, 500], "nice": false, "zero": false},
      "axis": {"values": [4000,3500,3000,2500,2000,1500,1000,500], "format": "d", "labelExpr": "datum.value % 1000 == 0 ? datum.label : ''", "tickSize": {"condition": {"test": "datum.value % 1000 == 0", "value": 7}, "value": 4}, "labelPadding": 10, "title": "wavenumber (cm⁻¹)", "titleFontSize": 31, "titleBaseline": "alphabetic", "titleX": 282, "titleY": 63}},
     "y": {"field": "v", "type": "quantitative", "scale": {"domain": [0, 417], "nice": false, "zero": false},
      "axis": {"labels": false, "values": [0,11.27,22.54,33.81,45.08,56.35,67.62,78.89,90.16,101.43,112.70,123.97,135.24,146.51,157.78,169.05,180.32,191.60,202.87,214.14,225.41,236.68,247.95,259.22,270.49,281.76,293.03,304.30,315.57,326.84,338.11,349.38,360.65,371.92,383.19,394.46,405.73,417], "tickSize": {"condition": {"test": "round(datum.value/11.2703) % 2 == 1", "value": 9}, "value": 4.5}, "title": "intensity (a.u.)", "titleFontSize": 30, "titleAngle": -90, "titleBaseline": "alphabetic", "titleAlign": "center", "titleX": -33, "titleY": 208}},
     "color": {"field": "s", "type": "nominal", "scale": {"domain": ["3", "Zeolite Y", "3 inside Zeolite Y"], "range": ["#e3141c", "#000000", "#2d4fa5"]},
      "legend": {"title": null, "legendX": 44.5, "legendY": 275.5}}
    }
   }
  ]
 }
]
}
